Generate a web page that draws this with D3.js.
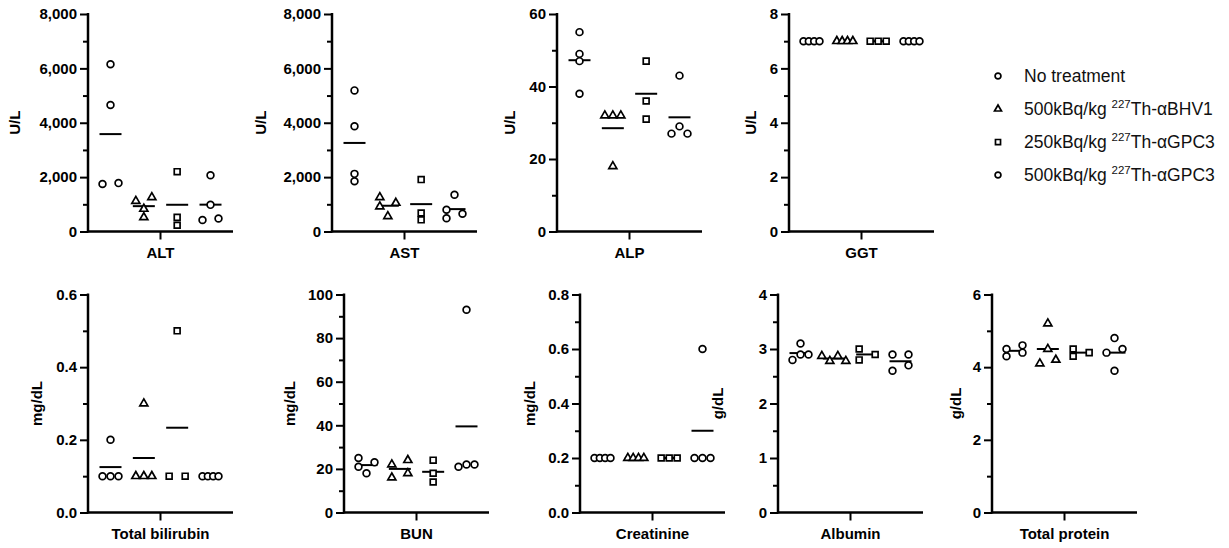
<!DOCTYPE html>
<html>
<head>
<meta charset="utf-8">
<script src="https://cdn.jsdelivr.net/npm/d3@7"></script>
<style>
  body { margin: 0; background: #fff; }
  svg { display: block; font-family: "Liberation Sans", Arial, Helvetica, sans-serif; }
  .tick text, .xlabel, .ylabel { font-weight: bold; font-size: 15px; fill: #000; }
  .legend text { font-size: 17.5px; fill: #111; }
</style>
</head>
<body>
<main></main>
<script>
// Serum chemistry, 4 treatment groups per analyte, mean line + individual animals.

const groups = [
  "No treatment",
  "500kBq/kg ^227^Th-αBHV1",
  "250kBq/kg ^227^Th-αGPC3",
  "500kBq/kg ^227^Th-αGPC3"
];
const groupSymbols = ["circle", "triangle", "square", "circle"];

const analytes  = ["ALT", "AST", "ALP", "GGT", "Total bilirubin", "BUN", "Creatinine", "Albumin", "Total protein"];
const units     = ["U/L", "U/L", "U/L", "U/L", "mg/dL", "mg/dL", "mg/dL", "g/dL", "g/dL"];
const yMax      = [8000, 8000, 60, 8, 0.6, 100, 0.8, 4, 6];
const yStep     = [2000, 2000, 20, 2, 0.2, 20, 0.2, 1, 2];
const tickFmt   = [",", ",", "d", "d", ".1f", "d", ".1f", "d", "d"];

// one array per group
const altValues = [[1750, 1780, 6150, 4650], [1120, 1260, 830, 520], [2200, 520, 230], [2070, 420, 480, 980]];
const astValues = [[5190, 3870, 2120, 1850], [1050, 1260, 920, 560], [1910, 680, 430], [1355, 800, 650, 490]];
const alpValues = [[55, 49, 47, 38], [32, 32, 32, 18], [47, 36, 31], [43, 29, 27, 27]];
const ggtValues = [[7, 7, 7, 7], [7, 7, 7, 7], [7, 7, 7], [7, 7, 7, 7]];
const tbilValues = [[0.2, 0.1, 0.1, 0.1], [0.3, 0.1, 0.1, 0.1], [0.5, 0.1, 0.1], [0.1, 0.1, 0.1, 0.1]];
const bunValues = [[23, 18, 25, 21], [22, 16, 24, 18], [24, 18, 14], [93, 21, 22, 22]];
const creaValues = [[0.2, 0.2, 0.2, 0.2], [0.2, 0.2, 0.2, 0.2], [0.2, 0.2, 0.2], [0.6, 0.2, 0.2, 0.2]];
const albValues = [[3.1, 2.9, 2.9, 2.8], [2.78, 2.87, 2.78, 2.87], [3.0, 2.8, 2.9], [2.9, 2.6, 2.9, 2.7]];
const tpValues  = [[4.5, 4.3, 4.6, 4.4], [5.2, 4.5, 4.1, 4.2], [4.5, 4.3, 4.4], [4.8, 4.5, 4.4, 3.9]];

const allValues = [altValues, astValues, alpValues, ggtValues, tbilValues, bunValues, creaValues, albValues, tpValues];

// panel placement (axis origin x, top/bottom of y range, y-label offset)
const W = 1229, H = 548, panelW = 145;
const layout = [
  {x: 88,  top: 14,  bottom: 231.5, labelDx: -73},
  {x: 332, top: 14,  bottom: 231.5, labelDx: -71},
  {x: 557, top: 14,  bottom: 231.5, labelDx: -47},
  {x: 789, top: 14,  bottom: 231.5, labelDx: -38},
  {x: 88,  top: 294.5, bottom: 512.5, labelDx: -51},
  {x: 344, top: 294.5, bottom: 512.5, labelDx: -54},
  {x: 580, top: 294.5, bottom: 512.5, labelDx: -50},
  {x: 778, top: 294.5, bottom: 512.5, labelDx: -60},
  {x: 992, top: 294.5, bottom: 512.5, labelDx: -36}
];

const spreadStep = 8;   // horizontal slot for overlapping points
const hitDist = 7;      // two markers closer than this overlap

const symbolType = {circle: d3.symbolCircle, triangle: d3.symbolTriangle, square: d3.symbolSquare};
const symbolSize = {circle: 36, triangle: 28, square: 34};

// Prism-like scatter: overlapping points get pushed sideways
function spread(vals, y) {
  const d = spreadStep;
  const pts = vals.map(v => ({v: v, py: y(v), dx: 0})).sort((a, b) => a.v - b.v);
  const clusters = [];
  pts.forEach((p, i) => {
    if (i && Math.abs(pts[i - 1].py - p.py) < 6) clusters[clusters.length - 1].push(p);
    else clusters.push([p]);
  });
  const placed = [];
  clusters.forEach(c => {
    if (c.length === 1) {
      c[0].dx = 0;
      placed.push(c[0]);
    } else if (Math.abs(c[0].py - c[c.length - 1].py) < 1) {
      c.forEach((p, i) => { p.dx = -d + 2 * d * i / (c.length - 1); placed.push(p); });
    } else {
      const cand = [-d, d, 0, -2 * d, 2 * d, -3 * d, 3 * d];
      c.forEach(p => {
        p.dx = cand.find(dx => placed.every(q => Math.hypot(q.dx - dx, q.py - p.py) >= hitDist));
        if (p.dx === undefined) p.dx = 0;
        placed.push(p);
      });
      const sh = (d3.min(c, p => p.dx) + d3.max(c, p => p.dx)) / 2;
      c.forEach(p => { p.dx -= sh; });
    }
  });
  return pts;
}

const svg = d3.select("main").append("svg")
  .attr("width", W)
  .attr("height", H);

svg.append("rect").attr("width", W).attr("height", H).attr("fill", "#fff");

analytes.forEach((name, k) => {
  const L = layout[k];
  const g = svg.append("g").attr("transform", `translate(${L.x},0)`);

  const y = d3.scaleLinear().domain([0, yMax[k]]).range([L.bottom, L.top]);
  const x = d3.scalePoint().domain(d3.range(groups.length)).range([22.5, panelW - 22.5]);

  const majors = d3.range(0, yMax[k] + yStep[k] / 2, yStep[k]);
  const minors = d3.range(yStep[k] / 2, yMax[k], yStep[k]);

  // minor ticks
  g.append("g")
    .call(d3.axisLeft(y).tickValues(minors).tickSize(5).tickFormat(""))
    .call(a => a.select(".domain").remove())
    .call(a => a.selectAll("line").attr("stroke", "#000").attr("stroke-width", 2));

  // major ticks
  g.append("g")
    .call(d3.axisLeft(y).tickValues(majors).tickSize(8).tickPadding(3).tickFormat(d3.format(tickFmt[k])))
    .call(a => a.select(".domain").remove())
    .call(a => a.selectAll("line").attr("stroke", "#000").attr("stroke-width", 2))
    .call(a => a.selectAll("text").attr("font-family", null).attr("font-size", null));

  // axis lines
  g.append("line").attr("x1", 0).attr("x2", 0).attr("y1", L.bottom + 1).attr("y2", L.top - 1)
    .attr("stroke", "#000").attr("stroke-width", 2.5);
  g.append("line").attr("x1", -1).attr("x2", panelW).attr("y1", L.bottom).attr("y2", L.bottom)
    .attr("stroke", "#000").attr("stroke-width", 2.5);
  g.append("line").attr("x1", panelW / 2).attr("x2", panelW / 2).attr("y1", L.bottom).attr("y2", L.bottom + 8)
    .attr("stroke", "#000").attr("stroke-width", 2);

  g.append("text").attr("class", "xlabel")
    .attr("x", panelW / 2).attr("y", L.bottom + 26)
    .attr("text-anchor", "middle")
    .text(name);

  g.append("text").attr("class", "ylabel")
    .attr("transform", `translate(${L.labelDx},${(L.top + L.bottom) / 2}) rotate(-90)`)
    .attr("text-anchor", "middle")
    .attr("dy", "0.36em")
    .text(units[k]);

  const vals = allValues[k];

  // mean lines behind the symbols
  g.selectAll("line.mean").data(vals).join("line")
    .attr("class", "mean")
    .attr("x1", (d, i) => x(i) - 11).attr("x2", (d, i) => x(i) + 11)
    .attr("y1", d => y(d3.mean(d))).attr("y2", d => y(d3.mean(d)))
    .attr("stroke", "#000").attr("stroke-width", 2);

  vals.forEach((gv, i) => {
    const s = groupSymbols[i];
    g.append("g").selectAll("path").data(spread(gv, y)).join("path")
      .attr("d", d3.symbol(symbolType[s], symbolSize[s]))
      .attr("transform", p => `translate(${x(i) + p.dx},${p.py})`)
      .attr("fill", "#fff")
      .attr("stroke", "#000")
      .attr("stroke-width", 1.7);
  });
});

// legend
const legend = svg.append("g").attr("class", "legend").attr("transform", "translate(998,76)");
groups.forEach((label, i) => {
  const row = legend.append("g").attr("transform", `translate(0,${i * 33})`);
  const s = groupSymbols[i];
  row.append("path")
    .attr("d", d3.symbol(symbolType[s], symbolSize[s] * 0.75))
    .attr("fill", "#fff").attr("stroke", "#000").attr("stroke-width", 1.7);
  const t = row.append("text").attr("x", 26).attr("y", 6.3);
  label.split("^").forEach((part, j) => {
    if (!part) return;
    if (j % 2 === 1) {
      t.append("tspan").attr("dy", -7).attr("font-size", "11.5px").text(part);
    } else {
      t.append("tspan").attr("dy", j ? 7 : 0).text(part);
    }
  });
});
</script>
</body>
</html>
